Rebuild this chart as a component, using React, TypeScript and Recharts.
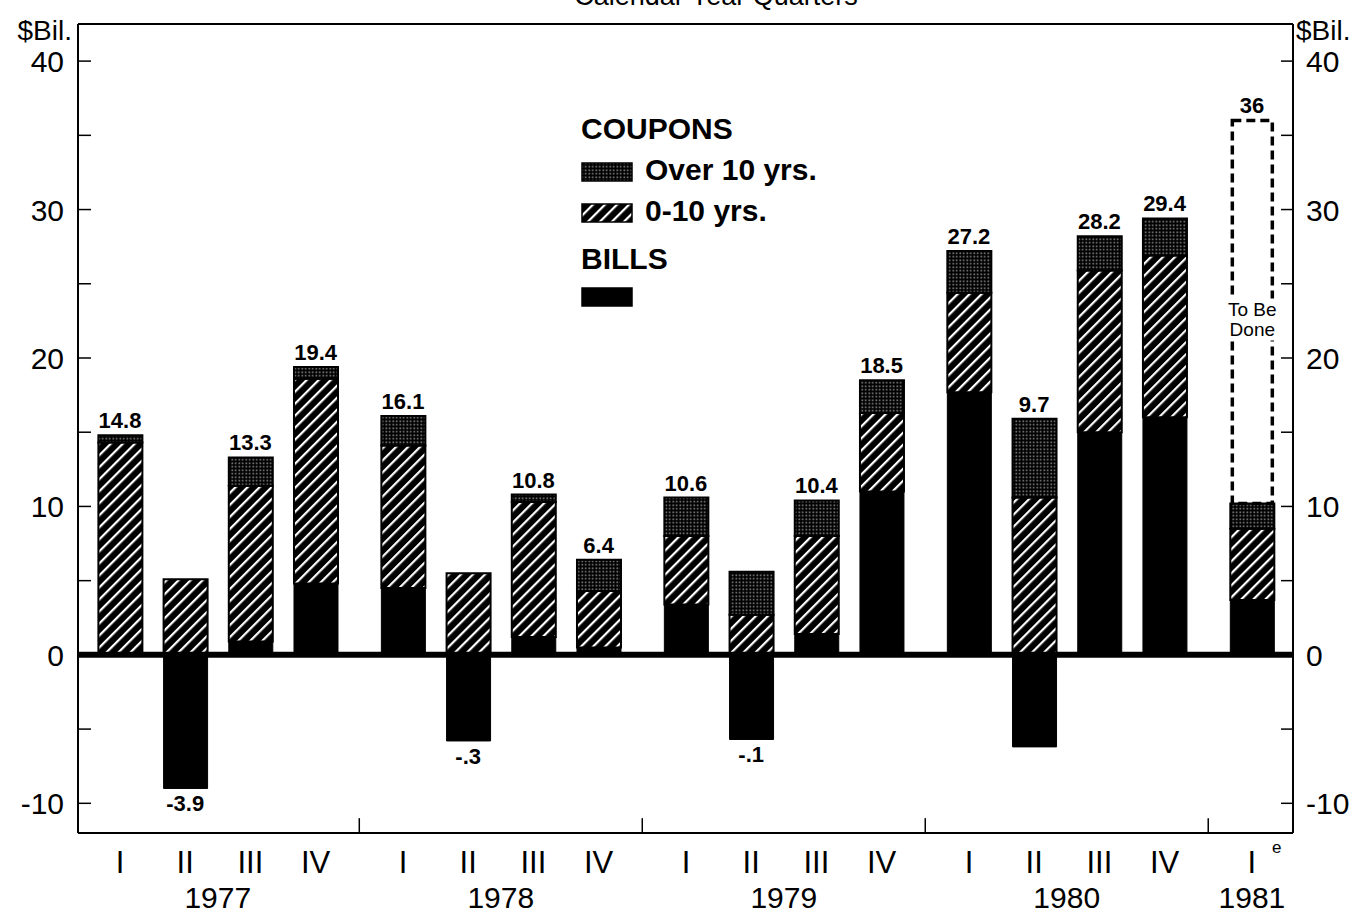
import React from "react";
import {
  Bar,
  ComposedChart,
  Legend,
  ReferenceLine,
  Scatter,
  XAxis,
  YAxis,
} from "recharts";

const quarters = ["I", "II", "III", "IV", "I", "II", "III", "IV", "I", "II", "III", "IV", "I", "II", "III", "IV", "I"];
const yearOf = [0, 0, 0, 0, 1, 1, 1, 1, 2, 2, 2, 2, 3, 3, 3, 3, 4];
const years = ["1977", "1978", "1979", "1980", "1981"];

// $ billions
const bills = [0, -9.0, 0.9, 4.8, 4.5, -5.8, 1.2, 0.5, 3.4, -5.7, 1.4, 11.0, 17.7, -6.2, 15.0, 16.0, 3.7];
const coupons0to10 = [14.3, 5.1, 10.5, 13.8, 9.6, 5.5, 9.1, 3.8, 4.6, 2.7, 6.6, 5.3, 6.7, 10.6, 10.9, 10.9, 4.8];
const couponsOver10 = [0.5, 0, 1.9, 0.8, 2.0, 0, 0.5, 2.1, 2.6, 2.9, 2.4, 2.2, 2.8, 5.3, 2.3, 2.5, 1.7];
const toBeDone = [0, 0, 0, 0, 0, 0, 0, 0, 0, 0, 0, 0, 0, 0, 0, 0, 25.8];
const totalLabels = ["14.8", "-3.9", "13.3", "19.4", "16.1", "-.3", "10.8", "6.4", "10.6", "-.1", "10.4", "18.5", "27.2", "9.7", "28.2", "29.4", "36"];

const yTicks = [-10, -5, 0, 5, 10, 15, 20, 25, 30, 35, 40];

// horizontal layout: quarters one unit apart, a wider gap between years
const YEAR_STRIDE = 4.34;
const qIndex = (i: number) => i - yearOf[i] * 4;

const data = quarters.map((q, i) => {
  const pos = yearOf[i] * YEAR_STRIDE + qIndex(i);
  const positiveTop =
    Math.max(bills[i], 0) + coupons0to10[i] + couponsOver10[i] + toBeDone[i];
  const total = bills[i] + coupons0to10[i] + couponsOver10[i] + toBeDone[i];
  return {
    pos,
    q,
    bills: bills[i],
    short: coupons0to10[i],
    long: couponsOver10[i],
    todo: toBeDone[i],
    labelY: total >= 0 ? positiveTop : bills[i],
    label: totalLabels[i],
    neg: total < 0,
  };
});

const yearCenters = years.map((y, yi) => {
  const idx = yearOf.map((v, i) => (v === yi ? i : -1)).filter((v) => v >= 0);
  const ps = idx.map((i) => data[i].pos);
  return { year: y, pos: (Math.min(...ps) + Math.max(...ps)) / 2 };
});
const yearSeparators = years.slice(0, -1).map((_, yi) => yi * YEAR_STRIDE + 3.67);

const FONT = "'Liberation Sans', Arial, Helvetica, sans-serif";

const LeftTick = (props: any) => {
  const { x, y, payload } = props;
  const v = payload.value;
  return (
    <g>
      <line x1={78} x2={91} y1={y} y2={y} stroke="#000" strokeWidth={1.5} />
      {v % 10 === 0 && (
        <text x={x - 6} y={y + 11} textAnchor="end" fontSize={30} fontFamily={FONT} fill="#000">
          {v}
        </text>
      )}
    </g>
  );
};

const RightTick = (props: any) => {
  const { x, y, payload } = props;
  const v = payload.value;
  return (
    <g>
      <line x1={1281} x2={1293} y1={y} y2={y} stroke="#000" strokeWidth={1.5} />
      {v % 10 === 0 && (
        <text x={x + 5} y={y + 11} textAnchor="start" fontSize={30} fontFamily={FONT} fill="#000">
          {v}
        </text>
      )}
    </g>
  );
};

const BottomTick = (props: any) => {
  const { x, y, payload } = props;
  const v = payload.value;
  const quarter = data.find((d) => Math.abs(d.pos - v) < 1e-6);
  const yr = yearCenters.find((d) => Math.abs(d.pos - v) < 1e-6);
  const isLast = quarter && quarter === data[data.length - 1];
  return (
    <g>
      {quarter && (
        <text x={x} y={y + 32} textAnchor="middle" fontSize={31} fontFamily={FONT} fill="#000">
          {quarter.q}
        </text>
      )}
      {isLast && (
        <text x={x + 20} y={y + 12} textAnchor="start" fontSize={17} fontFamily={FONT} fill="#000">
          e
        </text>
      )}
      {yr && (
        <text x={x} y={y + 67} textAnchor="middle" fontSize={30} fontFamily={FONT} fill="#000">
          {yr.year}
        </text>
      )}
    </g>
  );
};

const xTicks = Array.from(
  new Set([...data.map((d) => d.pos), ...yearCenters.map((d) => d.pos)])
).sort((a, b) => a - b);

const TodoShape = (props: any) => {
  const { x, y, width, height } = props;
  if (!height || height <= 0) return <g />;
  const cx = x + width / 2;
  return (
    <g>
      <rect
        x={x + 2}
        y={y}
        width={width - 4}
        height={height}
        fill="none"
        stroke="#000"
        strokeWidth={3.5}
        strokeDasharray="9 5"
      />
      <rect x={cx - 33} y={y + 178} width={66} height={42} fill="#fff" />
      <text x={cx} y={y + 196} textAnchor="middle" fontSize={19} fontFamily={FONT} fill="#000">
        To Be
      </text>
      <text x={cx} y={y + 216} textAnchor="middle" fontSize={19} fontFamily={FONT} fill="#000">
        Done
      </text>
    </g>
  );
};

const ValueLabel = (props: any) => {
  const { cx, cy, payload } = props;
  return (
    <text
      x={cx}
      y={payload.neg ? cy + 23 : cy - 7}
      textAnchor="middle"
      fontSize={22}
      fontWeight="bold"
      fontFamily={FONT}
      fill="#000"
    >
      {payload.label}
    </text>
  );
};

const Swatch = ({ fill }: { fill: string }) => (
  <svg width={52} height={20} style={{ verticalAlign: "middle", marginRight: 12 }}>
    <rect x={1} y={1} width={50} height={18} fill={fill} stroke="#000" strokeWidth={1.5} />
  </svg>
);

const LegendBox = () => (
  <div style={{ fontFamily: FONT, fontWeight: "bold", fontSize: 30, color: "#000", lineHeight: "41px", textAlign: "left" }}>
    <div>COUPONS</div>
    <div>
      <Swatch fill="url(#dots)" />
      Over 10 yrs.
    </div>
    <div>
      <Swatch fill="url(#hatch)" />
      0-10 yrs.
    </div>
    <div style={{ marginTop: 7 }}>BILLS</div>
    <div style={{ marginTop: -5 }}>
      <Swatch fill="#000" />
    </div>
  </div>
);

export default function App() {
  return (
    <div style={{ position: "absolute", left: 0, top: 0, width: 1361, height: 915, background: "#fff" }}>
      <svg width={1361} height={50} style={{ position: "absolute", left: 0, top: 0 }}>
        <text x={716} y={5} textAnchor="middle" fontSize={27} fontFamily={FONT} fill="#000">
          Calendar Year Quarters
        </text>
        <text x={72} y={40} textAnchor="end" fontSize={28} fontFamily={FONT} fill="#000">
          $Bil.
        </text>
        <text x={1296} y={40} textAnchor="start" fontSize={28} fontFamily={FONT} fill="#000">
          $Bil.
        </text>
      </svg>
      <svg width={0} height={0} style={{ position: "absolute" }}>
        <defs>
          <pattern id="hatch" patternUnits="userSpaceOnUse" width={8.5} height={8.5} patternTransform="rotate(45)">
            <rect width={8.5} height={8.5} fill="#000" />
            <rect x={0} y={0} width={2.2} height={8.5} fill="#fff" />
          </pattern>
          <pattern id="dots" patternUnits="userSpaceOnUse" width={3.5} height={3.5}>
            <rect width={3.5} height={3.5} fill="#000" />
            <rect x={0.5} y={0.5} width={1.5} height={1.5} fill="#9a9a9a" />
          </pattern>
        </defs>
      </svg>
      <div style={{ position: "absolute", left: 0, top: 0 }}>
        <ComposedChart
          width={1361}
          height={915}
          data={data}
          stackOffset="sign"
          margin={{ top: 24, right: 0, bottom: 0, left: 0 }}
        >
          <XAxis
            dataKey="pos"
            type="number"
            domain={[-0.644, 17.99]}
            allowDataOverflow
            ticks={xTicks}
            interval={0}
            tick={<BottomTick />}
            tickLine={false}
            axisLine={{ stroke: "#000", strokeWidth: 2 }}
            height={82}
          />
          <YAxis
            yAxisId="left"
            domain={[-12, 42.5]}
            ticks={yTicks}
            interval={0}
            allowDataOverflow
            tick={<LeftTick />}
            tickLine={false}
            axisLine={{ stroke: "#000", strokeWidth: 2 }}
            width={78}
          />
          <YAxis
            yAxisId="right"
            orientation="right"
            domain={[-12, 42.5]}
            ticks={yTicks}
            interval={0}
            allowDataOverflow
            tick={<RightTick />}
            tickLine={false}
            axisLine={{ stroke: "#000", strokeWidth: 2 }}
            width={68}
          />
          <Legend
            verticalAlign="middle"
            align="center"
            layout="horizontal"
            content={<LegendBox />}
            wrapperStyle={{ left: 581, top: 108, width: 320 }}
          />
          <ReferenceLine yAxisId="left" y={42.5} stroke="#000" strokeWidth={2} />
          <Bar yAxisId="left" dataKey="bills" stackId="a" barSize={44} fill="#000" stroke="#000" strokeWidth={1} isAnimationActive={false} />
          <Bar yAxisId="left" dataKey="short" stackId="a" barSize={44} fill="url(#hatch)" stroke="#000" strokeWidth={2} isAnimationActive={false} />
          <Bar yAxisId="left" dataKey="long" stackId="a" barSize={44} fill="url(#dots)" stroke="#000" strokeWidth={2} isAnimationActive={false} />
          <Bar yAxisId="left" dataKey="todo" stackId="a" barSize={44} shape={<TodoShape />} isAnimationActive={false} />
          <ReferenceLine yAxisId="left" y={0} stroke="#000" strokeWidth={6} />
          {yearSeparators.map((p) => (
            <ReferenceLine
              key={p}
              yAxisId="left"
              segment={[
                { x: p, y: -12 },
                { x: p, y: -11 },
              ]}
              stroke="#000"
              strokeWidth={1.5}
            />
          ))}
          <Scatter yAxisId="left" dataKey="labelY" shape={<ValueLabel />} isAnimationActive={false} legendType="none" />
        </ComposedChart>
      </div>
    </div>
  );
}
